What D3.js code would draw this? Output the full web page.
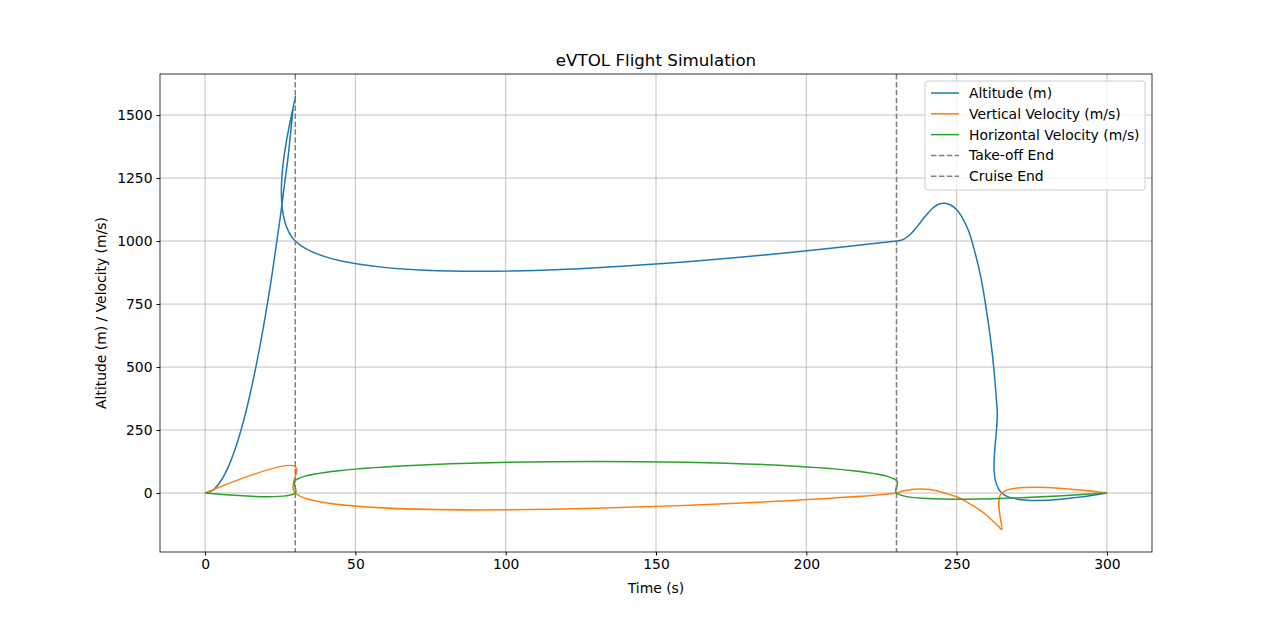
<!DOCTYPE html>
<html><head><meta charset="utf-8">
<script src="https://cdn.jsdelivr.net/npm/d3@7"></script>
<style>body{margin:0;background:#fff}text{font-family:"DejaVu Sans",sans-serif}</style>
</head><body><svg id="c" width="1280" height="620"></svg>
<script>
const altitude=[[0,0],[2.5,11],[5,44],[7.5,98],[10,175],[12.5,273],[15,394],[17.5,536],[20,700],[22.5,886],[25,1094],[27.5,1323],[30,1575],[30,1000],[230,1000],[232,1005],[234,1020],[236,1045],[238,1075],[240,1104],[242,1130],[244,1146],[246,1150],[248,1143],[250,1125],[252,1090],[254,1040],[256,960],[258,860],[260,720],[262,540],[263.5,330],[265,0],[300,0]];
const vertVel=[[0,0],[30,105],[30,0],[230,0],[232,8],[234,12],[236,15],[238,16],[240,15],[242,12],[244,7],[246,0],[248,-7],[250,-15],[252,-26],[254,-40],[256,-54],[258,-70],[260,-88],[262,-110],[264,-133],[265,-145],[265,0],[300,0]];
const horizVel=[[0,0],[30,0],[30,50],[230,50],[230,0],[300,0]];
const phaseEnds=[30,230];
const xTicks=[0,50,100,150,200,250,300];
const yTicks=[0,250,500,750,1000,1250,1500];
const series=[{name:"Altitude (m)",data:altitude,color:"#1f77b4"},{name:"Vertical Velocity (m/s)",data:vertVel,color:"#ff7f0e"},{name:"Horizontal Velocity (m/s)",data:horizVel,color:"#2ca02c"}];
const svg=d3.select("#c");
const L=160,R=1152,T=74,B=552;
const x=d3.scaleLinear().domain([-15,315]).range([L,R]);
const y=d3.scaleLinear().domain([-234,1663]).range([B,T]);
const g=svg.append("g");
xTicks.forEach(t=>g.append("line").attr("x1",x(t)).attr("x2",x(t)).attr("y1",T).attr("y2",B).attr("stroke","#b0b0b0").attr("stroke-width",0.8));
yTicks.forEach(t=>g.append("line").attr("y1",y(t)).attr("y2",y(t)).attr("x1",L).attr("x2",R).attr("stroke","#b0b0b0").attr("stroke-width",0.8));
svg.append("defs").append("clipPath").attr("id","cp").append("rect").attr("x",L).attr("y",T).attr("width",R-L).attr("height",B-T);
const pl=svg.append("g").attr("clip-path","url(#cp)");
series.forEach(s=>pl.append("path").attr("d",d3.line().x(d=>x(d[0])).y(d=>y(d[1])).curve(d3.curveCatmullRom.alpha(0.5))(s.data)).attr("fill","none").attr("stroke",s.color).attr("stroke-width",1.5));
phaseEnds.forEach(p=>pl.append("line").attr("x1",x(p)).attr("x2",x(p)).attr("y1",T).attr("y2",B).attr("stroke","#808080").attr("stroke-width",1.5).attr("stroke-dasharray","5.5,2.4"));
const xa=svg.append("g").attr("transform",`translate(0,${B})`).call(d3.axisBottom(x).tickValues(xTicks).tickFormat(d3.format("d")).tickSize(3.5).tickPadding(4));
const ya=svg.append("g").attr("transform",`translate(${L},0)`).call(d3.axisLeft(y).tickValues(yTicks).tickFormat(d3.format("d")).tickSize(3.5).tickPadding(4));
[xa,ya].forEach(a=>{a.select(".domain").remove();a.selectAll("text").attr("font-size",13.9).attr("fill","#000").style("font-family","DejaVu Sans");a.selectAll("line").attr("stroke","#000");});
svg.append("rect").attr("x",L).attr("y",T).attr("width",R-L).attr("height",B-T).attr("fill","none").attr("stroke","#000").attr("stroke-width",0.8);
svg.append("text").attr("x",(L+R)/2).attr("y",66).attr("text-anchor","middle").attr("font-size",16.7).text("eVTOL Flight Simulation");
svg.append("text").attr("x",(L+R)/2).attr("y",593).attr("text-anchor","middle").attr("font-size",13.9).text("Time (s)");
svg.append("text").attr("transform",`translate(106,${(T+B)/2}) rotate(-90)`).attr("text-anchor","middle").attr("font-size",13.9).text("Altitude (m) / Velocity (m/s)");
const lg=svg.append("g");
lg.append("rect").attr("x",925).attr("y",81).attr("width",220).attr("height",109).attr("rx",3).attr("fill","#fff").attr("fill-opacity",0.8).attr("stroke","#ccc");
const items=series.map(s=>({name:s.name,color:s.color,dash:null})).concat([{name:"Take-off End",color:"#808080",dash:"5.5,2.4"},{name:"Cruise End",color:"#808080",dash:"5.5,2.4"}]);
items.forEach((it,i)=>{const yy=93+i*20.8;
lg.append("line").attr("x1",931).attr("x2",959).attr("y1",yy).attr("y2",yy).attr("stroke",it.color).attr("stroke-width",1.5).attr("stroke-dasharray",it.dash);
lg.append("text").attr("x",969).attr("y",yy+5).attr("font-size",13.9).text(it.name);});
</script></body></html>
